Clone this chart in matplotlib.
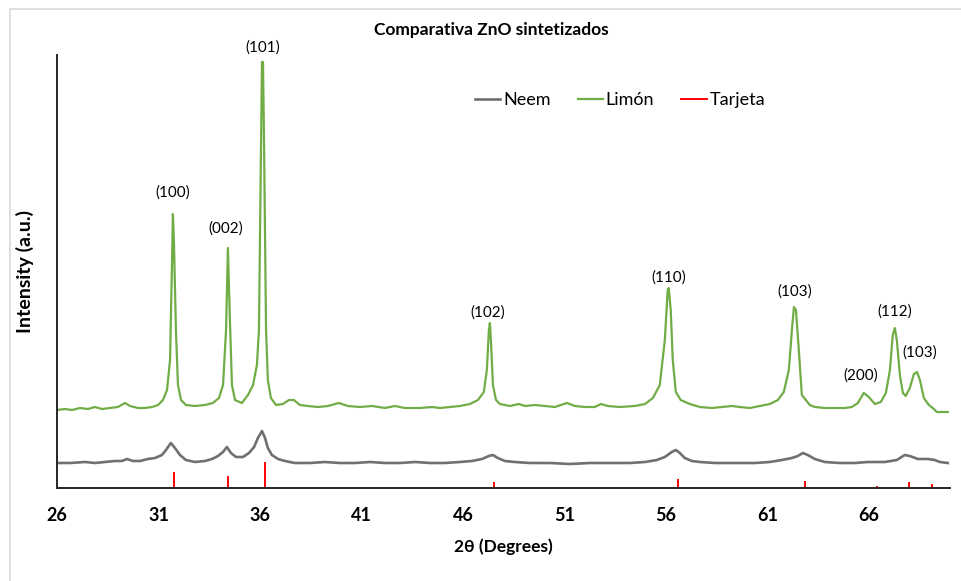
import matplotlib
matplotlib.use("Agg")
import matplotlib.pyplot as plt
from matplotlib.patches import Rectangle
import numpy as np

# 2θ positions (degrees) and intensities (a.u.) of the lemon-extract ZnO pattern
limon_2theta = [26.00, 26.39, 26.74, 27.13, 27.53, 27.87, 28.22, 28.61, 29.00, 29.35,
                29.60, 29.99, 30.33, 30.68, 30.98, 31.22, 31.42, 31.57, 31.67, 31.71,
                31.76, 31.86, 31.96, 32.11, 32.35, 32.80, 33.29, 33.68, 33.98, 34.18,
                34.33, 34.42, 34.52, 34.62, 34.77, 35.11, 35.41, 35.66, 35.85, 35.95,
                36.05, 36.10, 36.15, 36.20, 36.30, 36.39, 36.54, 36.79, 37.13, 37.43,
                37.67, 37.97, 38.36, 38.86, 39.35, 39.89, 40.33, 40.93, 41.52, 42.16,
                42.65, 43.14, 43.88, 44.47, 44.87, 45.36, 45.85, 46.34, 46.74, 47.03,
                47.18, 47.28, 47.33, 47.38, 47.48, 47.63, 47.82, 48.32, 48.76, 49.06,
                49.55, 50.04, 50.53, 51.12, 51.52, 52.01, 52.50, 52.80, 53.14, 53.73,
                54.47, 54.97, 55.36, 55.70, 55.95, 56.09, 56.14, 56.24, 56.34, 56.49,
                56.73, 57.18, 57.68, 58.27, 58.76, 59.25, 59.65, 60.14, 60.63, 61.12,
                61.52, 61.81, 62.06, 62.21, 62.31, 62.41, 62.55, 62.70, 62.90, 63.09,
                63.34, 63.83, 64.33, 64.82, 65.16, 65.46, 65.75, 66.00, 66.30, 66.59,
                66.84, 67.04, 67.18, 67.28, 67.38, 67.53, 67.68, 67.82, 68.02, 68.22,
                68.37, 68.52, 68.71, 68.96, 69.15, 69.35, 69.89]
limon_int = [78, 79, 78, 80, 79, 81, 79, 80, 81, 85,
             82, 80, 80, 81, 83, 88, 98, 128, 228, 274,
             248, 158, 103, 88, 83, 82, 83, 85, 90, 103,
             158, 240, 168, 103, 88, 85, 93, 103, 123, 158,
             338, 426, 426, 348, 158, 108, 90, 83, 84, 88,
             88, 83, 82, 81, 82, 85, 82, 81, 82, 80,
             82, 80, 80, 81, 80, 81, 82, 84, 88, 96,
             118, 158, 165, 148, 103, 88, 84, 82, 84, 82,
             83, 82, 81, 85, 82, 81, 81, 84, 82, 81,
             82, 84, 90, 103, 148, 198, 200, 178, 128, 96,
             88, 84, 81, 80, 81, 82, 81, 80, 82, 84,
             88, 96, 118, 158, 181, 178, 138, 93, 88, 83,
             81, 80, 80, 80, 81, 85, 95, 91, 84, 86,
             95, 118, 153, 160, 148, 113, 95, 92, 100, 114,
             116, 108, 90, 83, 80, 76, 76]

# 2θ positions (degrees) and intensities (a.u.) of the neem-extract ZnO pattern
neem_2theta = [26.00, 26.64, 27.38, 27.87, 28.36, 28.86, 29.20, 29.45, 29.74, 30.09,
               30.48, 30.83, 31.17, 31.37, 31.61, 31.81, 32.06, 32.35, 32.80, 33.29,
               33.64, 33.93, 34.18, 34.37, 34.57, 34.82, 35.16, 35.46, 35.71, 35.90,
               36.10, 36.25, 36.39, 36.59, 36.89, 37.23, 37.72, 38.46, 39.20, 39.94,
               40.68, 41.42, 42.16, 42.90, 43.64, 44.37, 45.11, 45.85, 46.44, 46.94,
               47.28, 47.48, 47.72, 48.07, 48.56, 49.30, 50.29, 51.27, 52.26, 53.24,
               54.23, 54.97, 55.56, 55.95, 56.29, 56.49, 56.69, 56.93, 57.28, 57.68,
               58.41, 59.40, 60.39, 61.12, 61.72, 62.21, 62.50, 62.75, 62.99, 63.34,
               63.83, 64.57, 65.31, 65.95, 66.79, 67.38, 67.77, 68.02, 68.42, 68.91,
               69.25, 69.50, 69.89]
neem_int = [25, 25, 26, 25, 26, 27, 27, 29, 27, 27,
            29, 30, 33, 38, 45, 40, 33, 28, 26, 27,
            29, 32, 36, 41, 35, 31, 31, 35, 41, 50,
            57, 50, 40, 33, 29, 27, 25, 25, 26, 25,
            25, 26, 25, 25, 26, 25, 25, 26, 27, 29,
            32, 33, 30, 27, 26, 25, 25, 24, 25, 25,
            25, 26, 28, 31, 36, 38, 35, 30, 27, 26,
            25, 25, 25, 26, 28, 30, 32, 35, 33, 29,
            26, 25, 25, 26, 26, 28, 33, 32, 29, 29,
            28, 26, 25]

# Reference card (Tarjeta) reflections: 2θ and relative height
card_2theta = [31.77, 34.42, 36.25, 47.54, 56.60, 62.86, 66.38, 67.96, 69.10]
card_int = [15, 11, 25, 5, 8, 6, 1, 5, 3]

# Miller index labels placed above the peaks
hkl_labels = ["(100)", "(002)", "(101)", "(102)", "(110)", "(103)", "(200)", "(112)", "(103)"]
hkl_2theta = [31.71, 34.32, 36.15, 47.23, 56.14, 62.36, 65.60, 67.28, 68.51]
hkl_int = [295, 259, 440, 175, 210, 196, 112, 176, 135]

x_ticks = [26, 31, 36, 41, 46, 51, 56, 61, 66]

FONT = "Lato"
W, H = 961, 581
fig = plt.figure(figsize=(W / 100, H / 100), dpi=100)

# light chart-area frame (extends past the right and bottom edges)
fig.patches.append(Rectangle((10 / W, -0.05), 2, 1.05 - 9 / H, transform=fig.transFigure,
                             fill=False, edgecolor="#d9d9d9", linewidth=1.2))

ax = fig.add_axes([57 / W, (H - 488) / H, 893 / W, 433 / H])

green = "#70AD47"
gray = "#707070"
red = "#FF0000"

ax.plot(neem_2theta, neem_int, color=gray, lw=1.9, label="Neem")
ax.plot(limon_2theta, limon_int, color=green, lw=1.6, label="Limón")

cx, cy = [], []
for t, h in zip(card_2theta, card_int):
    cx += [t, t, np.nan]
    cy += [0, h, np.nan]
ax.plot(cx, cy, color=red, lw=1.4, label="Tarjeta")

for lab, t, h in zip(hkl_labels, hkl_2theta, hkl_int):
    ax.text(t, h, lab, ha="center", va="center", fontsize=11, family=FONT,
            color="#000000", clip_on=False)

ax.set_xlim(26, 70)
ax.set_ylim(0, 433)
ax.set_xticks(x_ticks)
ax.set_xticklabels([str(v) for v in x_ticks], fontsize=13, fontweight="bold", family=FONT)
ax.set_yticks([])
ax.tick_params(axis="x", length=0, pad=14)
for s in ("top", "right"):
    ax.spines[s].set_visible(False)
for s in ("left", "bottom"):
    ax.spines[s].set_color("#262626")
    ax.spines[s].set_linewidth(1.4)

ax.set_xlabel("2θ (Degrees)", fontsize=12.5, fontweight="bold", family=["Lato", "DejaVu Sans"], labelpad=10)
ax.set_ylabel("Intensity (a.u.)", fontsize=14, fontweight="bold", family=FONT)
ax.yaxis.set_label_coords(-23 / 893, 0.5)

fig.text(491 / W, 1 - 30 / H, "Comparativa ZnO sintetizados", ha="center", va="center",
         fontsize=12.5, fontweight="bold", family=FONT)

leg = ax.legend(loc="center", bbox_to_anchor=((620 - 57) / 893, (488 - 100) / 433), ncol=3,
                frameon=False, prop={"family": FONT, "size": 13},
                handlelength=1.4, handletextpad=0.15, columnspacing=1.5)

fig.savefig("out.png", dpi=100)
